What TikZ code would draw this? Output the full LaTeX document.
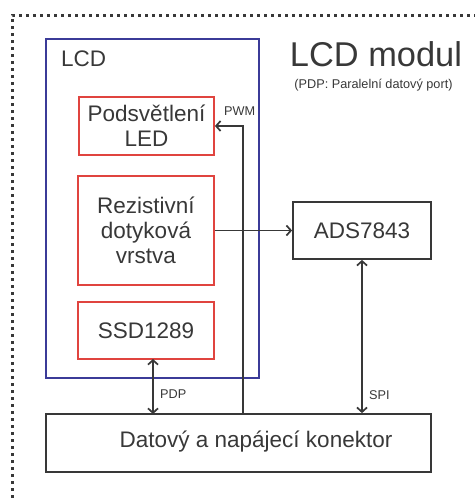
\documentclass[tikz,border=0pt]{standalone}
\usepackage{fontspec}
\setmainfont{Liberation Sans}
\usetikzlibrary{arrows.meta}

\definecolor{ink}{HTML}{383838}
\definecolor{ledred}{HTML}{E0443F}
\definecolor{lcdblue}{HTML}{3B3B98}

\begin{document}
\begin{tikzpicture}[x=1pt, y=-1pt,
    >={Straight Barb[length=4.5pt,width=10pt]},
    every node/.style={text=ink, inner sep=0pt},
    blok/.style={draw=ink, line width=1.8pt, align=center, font=\fontsize{22.5}{24.8}\selectfont},
    cervena/.style={blok, draw=ledred},
    popis/.style={font=\fontsize{12.7}{14}\selectfont},
    cara/.style={draw=ink, line width=1.7pt},
    tecky/.style={draw=ink, line width=3pt, dash pattern=on 3pt off 4pt}]
    \useasboundingbox (0,0) rectangle (475,498);

    \coordinate (frameA) at (12,498);
    \coordinate (frameB) at (12,15);
    \coordinate (frameC) at (475,15);
    \draw [tecky] (frameA) -- (frameB) -- (frameC);

    \node [blok, draw=lcdblue, minimum width=213pt, minimum height=339pt] (lcd) at (152.5,208.5) {};
    \node [anchor=base west, font=\fontsize{22.5}{24}\selectfont] (lcdtext) at (61,66.5) {LCD};

    \node [anchor=base, font=\fontsize{34.4}{36}\selectfont] (modul) at (376,66) {LCD modul};
    \node [anchor=base, popis] (pozn) at (373.5,88) {(PDP: Paralelní datový port)};

    \node [cervena, minimum width=135pt, minimum height=58pt] (led) at (146.5,126) {Podsvětlení\\LED};
    \node [cervena, minimum width=136pt, minimum height=109pt] (rez) at (146,230.5) {Rezistivní\\dotyková\\vrstva};
    \node [cervena, minimum width=136pt, minimum height=57pt] (ssd) at (146,330.5) {SSD1289};

    \node [blok, minimum width=138pt, minimum height=57pt] (ads) at (362,230.5) {ADS7843};
    \node [blok, minimum width=385pt, minimum height=58pt] (kon) at (238.5,443) {};
    \node [font=\fontsize{22.5}{24}\selectfont] (kontext) at (256,442) {Datový a napájecí konektor};

    \coordinate (pwm) at (243,414);
    \coordinate (pdpA) at (153,359);
    \coordinate (pdpB) at (153,414);

    \draw [cara, ->] (pwm) |- (led.east);
    \draw [cara, ->] (rez) -- (ads);
    \draw [cara, <->] (ads.south) -- (ads.south |- kon.north);
    \draw [cara, <->] (pdpA) -- (pdpB);

    \node [popis, anchor=west] at (224,111) {PWM};
    \node [popis, anchor=west] at (160,394) {PDP};
    \node [popis, anchor=west] at (369,395) {SPI};
\end{tikzpicture}
\end{document}
